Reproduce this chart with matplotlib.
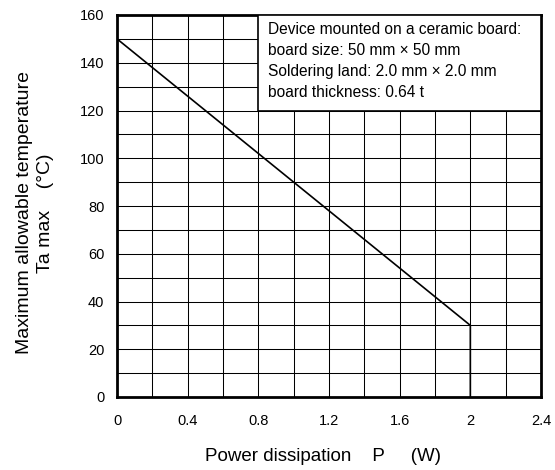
import numpy as np
import matplotlib
matplotlib.use("Agg")
from matplotlib import pyplot as plt

plt.rcParams['font.family'] = ['Liberation Sans', 'DejaVu Sans']

# Derating curve
power_w = [0.0, 2.0, 2.0]
ta_max_c = [150, 30, 0]

x_ticks = [0, 0.4, 0.8, 1.2, 1.6, 2, 2.4]
x_tick_labels = ['0', '0.4', '0.8', '1.2', '1.6', '2', '2.4']
y_ticks = [0, 20, 40, 60, 80, 100, 120, 140, 160]

note_lines = ['Device mounted on a ceramic board:',
              'board size: 50 mm \u00d7 50 mm',
              'Soldering land: 2.0 mm \u00d7 2.0 mm',
              'board thickness: 0.64 t']

fig = plt.figure(figsize=(5.55, 4.7), dpi=100)
ax = fig.add_axes([117 / 555, 1 - 397 / 470, 424 / 555, 382 / 470])

ax.set_xlim(0, 2.4)
ax.set_ylim(0, 160)
ax.set_xticks(np.arange(0, 2.41, 0.2), minor=True)
ax.set_yticks(np.arange(0, 161, 10), minor=True)
ax.set_xticks(x_ticks)
ax.set_xticklabels(x_tick_labels)
ax.set_yticks(y_ticks)
ax.grid(which='both', color='black', lw=0.75)
ax.tick_params(which='both', length=0, labelsize=10.5)
ax.tick_params(axis='x', pad=12)
ax.tick_params(axis='y', pad=9)

for s in ax.spines.values():
    s.set_linewidth(2)

ax.plot(power_w, ta_max_c, color='black', lw=1.2, zorder=3)

# Annotation box in the upper right
ax.add_patch(plt.Rectangle((0.8, 120), 1.6, 40, facecolor='white',
                           edgecolor='black', lw=1.2, zorder=4))
# va='baseline' on multi-line text sits on the last line
ax.text(0.855, 125.7, '\n'.join(note_lines), ha='left', va='baseline',
        fontsize=11.2, linespacing=1.5, zorder=5)

ax.set_xlabel('Power dissipation    P     (W)', fontsize=13.5, labelpad=14.5,
              x=0.4847)
ax.set_ylabel('Maximum allowable temperature\nTa max    (\u00b0C)',
              fontsize=14, linespacing=1.33)
ax.yaxis.set_label_coords(-0.1486, 0.482)

plt.savefig('out.png', dpi=100)
